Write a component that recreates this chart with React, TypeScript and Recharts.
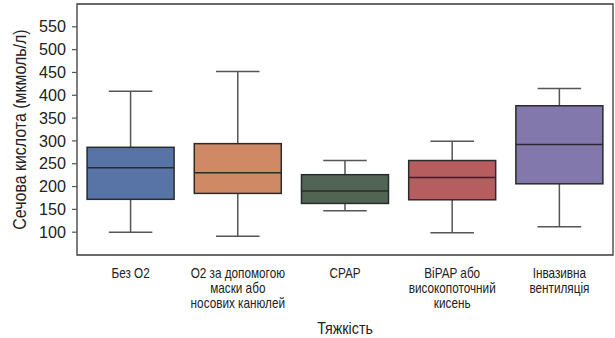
import React from "react";
import { ComposedChart, Bar, XAxis, YAxis, ReferenceArea } from "recharts";

const categories = ["Без O2", "O2 за допомогою маски або носових канюлей", "CPAP", "BiPAP або високопоточний кисень", "Інвазивна вентиляція"];
const categoryLines = [
  ["Без O2"],
  ["O2 за допомогою", "маски або", "носових канюлей"],
  ["CPAP"],
  ["BiPAP або", "високопоточний", "кисень"],
  ["Інвазивна", "вентиляція"],
];
const minValues = [100, 91, 147, 99, 112];
const q1Values = [172, 185, 163, 171, 206];
const medianValues = [241, 230, 190, 220, 292];
const q3Values = [286, 294, 226, 257, 377];
const maxValues = [409, 452, 257, 299, 415];
const colors = ["#5874a6", "#cf8964", "#526454", "#b65d60", "#8378ac"];
const yTicks = [100, 150, 200, 250, 300, 350, 400, 450, 500, 550];

const data = categories.map((c, i) => ({
  name: c,
  idx: i,
  min: minValues[i],
  q1: q1Values[i],
  median: medianValues[i],
  q3: q3Values[i],
  max: maxValues[i],
}));

const REG = "'Liberation Sans', Arial, sans-serif";
const SQUEEZE = 0.84;

const BoxShape = (props: any) => {
  const { x, y, width, height, payload } = props;
  const top = Math.min(y, y + height);
  const bottom = Math.max(y, y + height);
  const span = payload.q3 - payload.q1;
  const k = (bottom - top) / span;
  const yOf = (v: number) => bottom - (v - payload.q1) * k;
  const cx = x + width / 2;
  const capHalf = width / 4;
  const whisker = "#555555";
  const dark = "#2b2b2b";
  return (
    <g>
      <line x1={cx} x2={cx} y1={yOf(payload.q3)} y2={yOf(payload.max)} stroke={whisker} strokeWidth={1.5} />
      <line x1={cx} x2={cx} y1={yOf(payload.q1)} y2={yOf(payload.min)} stroke={whisker} strokeWidth={1.5} />
      <line x1={cx - capHalf} x2={cx + capHalf} y1={yOf(payload.max)} y2={yOf(payload.max)} stroke={whisker} strokeWidth={1.5} />
      <line x1={cx - capHalf} x2={cx + capHalf} y1={yOf(payload.min)} y2={yOf(payload.min)} stroke={whisker} strokeWidth={1.5} />
      <rect x={x} y={top} width={width} height={bottom - top} fill={colors[payload.idx]} stroke={dark} strokeWidth={1.5} />
      <line x1={x} x2={x + width} y1={yOf(payload.median)} y2={yOf(payload.median)} stroke={dark} strokeWidth={1.5} />
    </g>
  );
};

const CategoryTick = (props: any) => {
  const { x, y, index } = props;
  const lines = categoryLines[index] || [];
  return (
    <g transform={`translate(${x} ${y}) scale(${SQUEEZE} 1)`}>
      <text x={0} y={0} textAnchor="middle" fontFamily={REG} fontSize={14} fill="#222">
        {lines.map((l, i) => (
          <tspan key={i} x={0} dy={i === 0 ? 23 : 15}>{l}</tspan>
        ))}
      </text>
    </g>
  );
};

const YTick = (props: any) => {
  const { x, y, payload } = props;
  return (
    <g transform={`translate(${x} ${y}) scale(0.95 1)`}>
      <text x={0} y={0} textAnchor="end" dominantBaseline="central" fontFamily={REG} fontSize={17} fill="#222">
        {payload.value}
      </text>
    </g>
  );
};

export default function App() {
  return (
    <div style={{ position: "absolute", left: 0, top: 0 }}>
      <ComposedChart
        width={615}
        height={338}
        data={data}
        margin={{ top: 4, right: 2, bottom: 0, left: 0 }}
        barCategoryGap="9.4%"
      >
        <XAxis
          dataKey="name"
          axisLine={false}
          tickLine={false}
          tickSize={0}
          tickMargin={0}
          height={83}
          interval={0}
          tick={<CategoryTick />}
          label={{
            content: (p: any) => {
              const vb = p.viewBox;
              const cx = vb.x + vb.width / 2;
              return (
                <g transform={`translate(${cx} 334) scale(${SQUEEZE} 1)`}>
                  <text x={0} y={0} textAnchor="middle" fontFamily={REG} fontSize={17} fill="#222">
                    Тяжкість
                  </text>
                </g>
              );
            },
          }}
        />
        <YAxis
          type="number"
          domain={[50, 600]}
          ticks={yTicks}
          interval={0}
          width={77}
          axisLine={false}
          tickSize={5}
          tickMargin={6}
          tickLine={{ stroke: "#555", strokeWidth: 1.2 }}
          tick={<YTick />}
          label={{
            content: (p: any) => {
              const vb = p.viewBox;
              const cx = 20;
              const cy = vb.y + vb.height / 2;
              return (
                <g transform={`translate(${cx} ${cy}) rotate(-90) scale(${SQUEEZE} 1)`}>
                  <text x={0} y={0} textAnchor="middle" dominantBaseline="central" fontFamily={REG} fontSize={19} fill="#222">
                    Сечова кислота (мкмоль/л)
                  </text>
                </g>
              );
            },
          }}
        />
        <ReferenceArea y1={50} y2={600} fill="none" stroke="#3a3a3a" strokeWidth={1.3} ifOverflow="visible" />
        <Bar dataKey={(d: any) => [d.q1, d.q3]} shape={<BoxShape />} isAnimationActive={false} />
      </ComposedChart>
    </div>
  );
}
